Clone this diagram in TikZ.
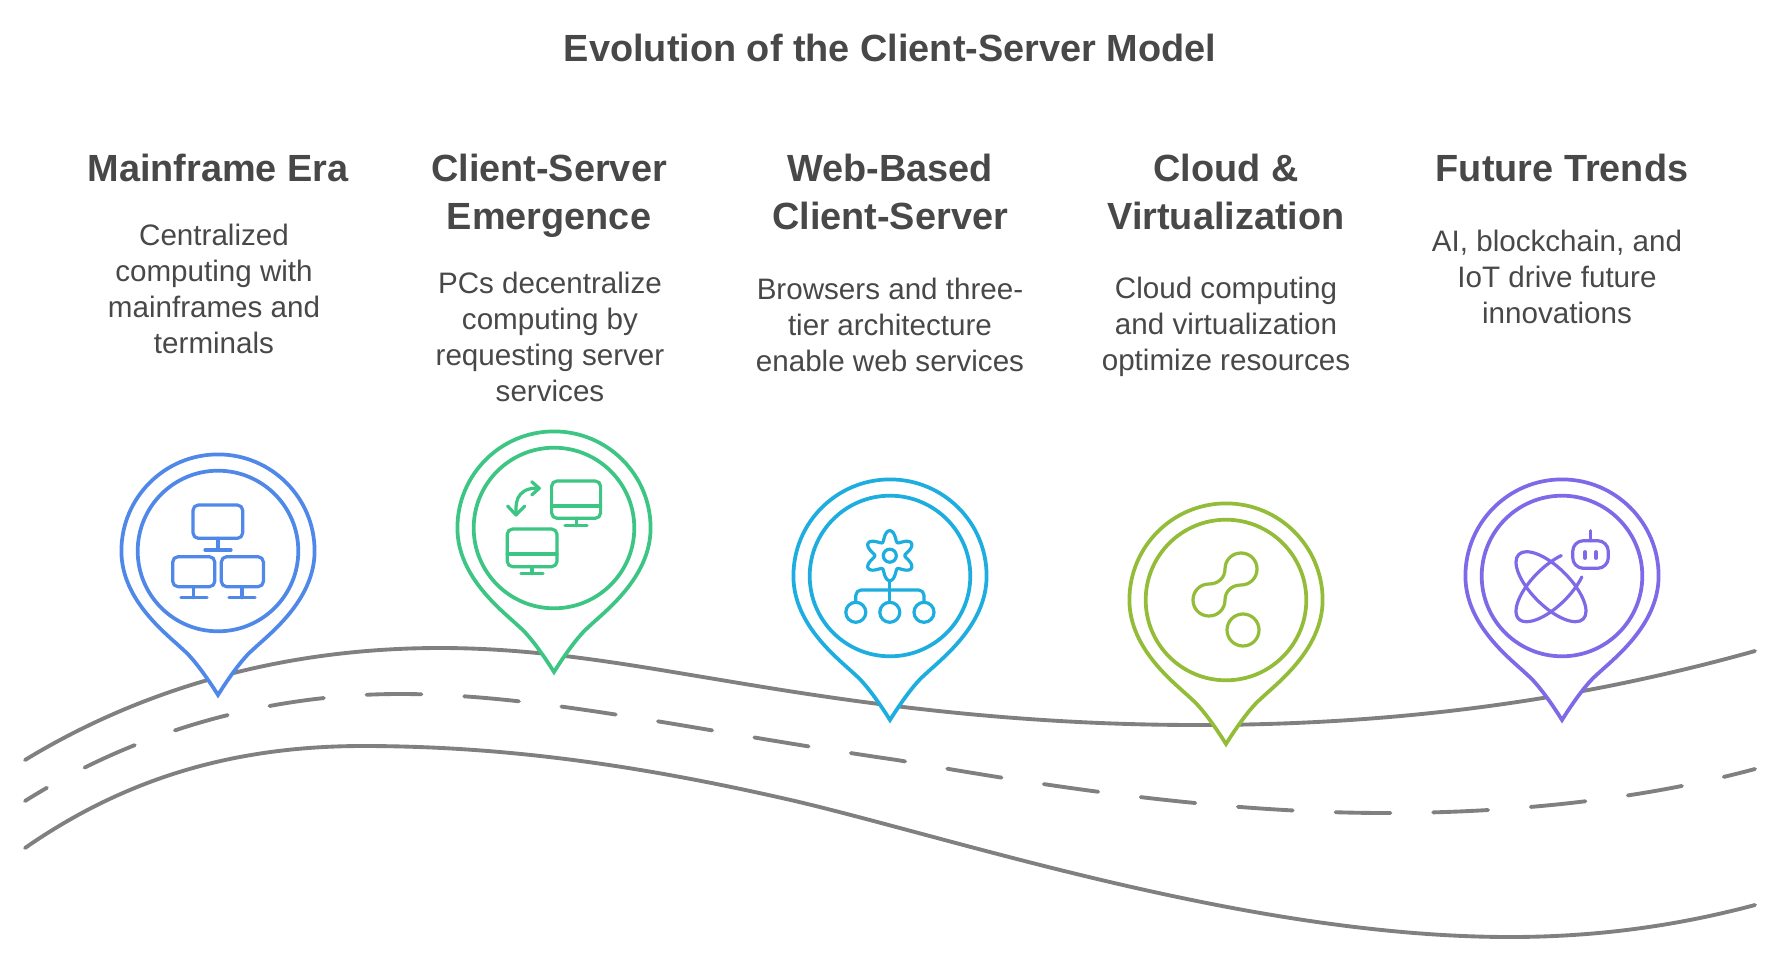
\documentclass[tikz,border=0pt]{standalone}
\usepackage{fontspec}
\setmainfont{Liberation Sans}
\definecolor{textgray}{HTML}{484848}
\definecolor{roadgray}{HTML}{808080}
\definecolor{pinblue}{HTML}{4F88E8}
\definecolor{pingreen}{HTML}{3CC583}
\definecolor{pincyan}{HTML}{1EADDF}
\definecolor{pinolive}{HTML}{93BC38}
\definecolor{pinpurple}{HTML}{7E69E8}
\tikzset{
  roadline/.style={draw=roadgray,line width=2.9pt,line cap=round},
  laneline/.style={roadline,dash pattern=on 41.2pt off 32.1pt,dash phase=22pt},
  pinline/.style={line width=2.8pt,fill=white},
  iconline/.style={line width=2.4pt,line cap=round,line join=round},
  titletext/.style={inner sep=0pt,text=textgray,font=\fontsize{28.4}{36}\selectfont\bfseries},
  headtext/.style={inner sep=0pt,align=center,text=textgray,font=\fontsize{28.4}{36}\selectfont\bfseries},
  bodytext/.style={inner sep=0pt,align=center,text=textgray,font=\fontsize{22.2}{27}\selectfont},
}
\newcommand{\mappin}[3]{
  \draw[pinline,draw=#3,shift={(#1,#2)}] (0,144) .. controls (-10,128) and (-24,108) .. (-34.5,99) .. controls (-50,84) and (-96.6,50) .. (-96.6,0) .. controls (-96.6,-53.35) and (-53.35,-96.6) .. (0,-96.6) .. controls (53.35,-96.6) and (96.6,-53.35) .. (96.6,0) .. controls (96.6,50) and (50,84) .. (34.5,99) .. controls (24,108) and (10,128) .. (0,144) -- cycle ;
  \draw[pinline,draw=#3] (#1,#2) circle [radius=80.3] ;
}

\begin{document}
\begin{tikzpicture}[x=0.75pt,y=0.75pt,yscale=-1,xscale=1]
\useasboundingbox (0,0) rectangle (1781,963);

%Curve Lines: upper road edge
\draw[roadline] (25,760) .. controls (140,690) and (280,648) .. (440,648) .. controls (540,648) and (630,665) .. (727,681) .. controls (840,700) and (1000,725) .. (1197,725) .. controls (1400,725) and (1580,700) .. (1755,651) ;
%Curve Lines: lane marking
\draw[laneline] (25,801) .. controls (130,735) and (260,694) .. (400,694) .. controls (540,694) and (690,730) .. (897,760) .. controls (1050,787) and (1220,813) .. (1386,813) .. controls (1510,813) and (1640,800) .. (1755,769) ;
%Curve Lines: lower road edge
\draw[roadline] (25,848) .. controls (130,775) and (240,746) .. (363,746) .. controls (520,746) and (660,770) .. (795,801) .. controls (960,840) and (1250,937) .. (1510,937) .. controls (1600,937) and (1680,925) .. (1755,905) ;

%Shape: map pins
\mappin{218}{551}{pinblue}
\mappin{554}{528}{pingreen}
\mappin{890}{576}{pincyan}
\mappin{1226}{600}{pinolive}
\mappin{1562}{576}{pinpurple}

%Icon: three networked monitors
\begin{scope}[iconline,pinblue]
\draw[rounded corners=4] (193,505) rectangle (242.7,538.3) ;
\draw (218,538.3) -- (218,550) (205,550) -- (231,550) ;
\draw[rounded corners=4] (172.7,556.7) rectangle (214.8,586.7) ;
\draw (193.8,586.7) -- (193.8,597.7) (181,597.7) -- (207,597.7) ;
\draw[rounded corners=4] (221.3,556.7) rectangle (263.4,586.7) ;
\draw (242,586.7) -- (242,597.7) (229,597.7) -- (255,597.7) ;
\end{scope}

%Icon: two monitors with exchange arrows
\begin{scope}[iconline,pingreen]
\draw[rounded corners=4] (551.6,481) rectangle (600.6,518.3) ;
\draw (551.6,506) -- (600.6,506) (576.5,518.3) -- (576.5,525.7) (565,525.7) -- (587,525.7) ;
\draw[rounded corners=4] (507.2,529) rectangle (557,566.7) ;
\draw (507.2,554) -- (557,554) (532,566.7) -- (532,573.7) (521,573.7) -- (543,573.7) ;
\draw (516,514) .. controls (516,506) and (514,488) .. (538,488) ;
\draw (507.6,506) -- (516,515) -- (524.8,506) ;
\draw (531.7,481.7) -- (539.3,488.3) -- (531.7,495) ;
\end{scope}

%Icon: gear above a small tree
\begin{scope}[iconline,pincyan]
\draw plot[domain=0:360,samples=145] ({889.8+(20+5*cos(6*\x))*cos(\x+90)},{555.7+(20+5*cos(6*\x))*sin(\x+90)}) -- cycle ;
\draw (889.8,555.7) circle [radius=6.5] ;
\draw (889.8,580.7) -- (889.8,602.3) ;
\draw[rounded corners=4] (855.8,602.3) -- (855.8,590) -- (924,590) -- (924,602.3) ;
\draw (855.8,612.3) circle [radius=10] ;
\draw (889.8,612.3) circle [radius=10] ;
\draw (924,612.3) circle [radius=10] ;
\end{scope}

%Icon: joined blobs and a separate circle
\begin{scope}[iconline,pinolive]
\draw (1225,569) .. controls (1225,578) and (1218,584) .. (1209,584) .. controls (1200,584) and (1193,591) .. (1193,600) .. controls (1193,609) and (1200,616) .. (1209,616) .. controls (1218,616) and (1225,609) .. (1225,600) .. controls (1225,591) and (1232,585) .. (1241,585) .. controls (1250,585) and (1257,578) .. (1257,569) .. controls (1257,560) and (1250,553) .. (1241,553) .. controls (1232,553) and (1225,560) .. (1225,569) -- cycle ;
\draw (1243,630) circle [radius=16] ;
\end{scope}

%Icon: atom orbits with a robot head
\begin{scope}[iconline,pinpurple]
\draw (1551,586.7) ellipse [x radius=45.6,y radius=19.2,rotate=45] ;
\draw plot[domain=51:310,samples=60] ({1551+(45.6*cos(\x)+19.2*sin(\x))*0.7071},{586.7+(-45.6*cos(\x)+19.2*sin(\x))*0.7071}) ;
\draw[rounded corners=8] (1572.7,540.7) rectangle (1608.3,568.3) ;
\draw (1590.7,530.7) -- (1590.7,540.7) ;
\draw (1585,551.7) -- (1585,558.3) (1596,551.7) -- (1596,558.3) ;
\end{scope}

% Text Node
\node[titletext] (title) at (890,48) {Evolution of the Client-Server Model};
% Text Node
\node[headtext] (headMainframe) at (218,168) {Mainframe Era};
\node[bodytext] (bodyMainframe) at (214,289) {Centralized\\computing with\\mainframes and\\terminals};
% Text Node
\node[headtext] (headEmergence) at (549,195.5) {Client-Server\\Emergence};
\node[bodytext] (bodyEmergence) at (550,337) {PCs decentralize\\computing by\\requesting server\\services};
% Text Node
\node[headtext] (headWeb) at (890,192) {Web-Based\\Client-Server};
\node[bodytext] (bodyWeb) at (890,325) {Browsers and three-\\tier architecture\\enable web services};
% Text Node
\node[headtext] (headCloud) at (1226,192) {Cloud \&\\Virtualization};
\node[bodytext] (bodyCloud) at (1226,327) {Cloud computing\\and virtualization\\optimize resources};
% Text Node
\node[headtext] (headFuture) at (1562,168) {Future Trends};
\node[bodytext] (bodyFuture) at (1557,277) {AI, blockchain, and\\IoT drive future\\innovations};

\end{tikzpicture}
\end{document}
